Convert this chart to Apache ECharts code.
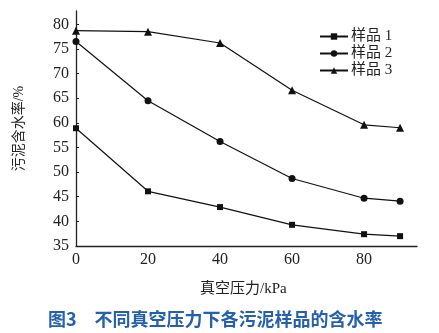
<!DOCTYPE html>
<html><head><meta charset="utf-8">
<script src="https://cdn.jsdelivr.net/npm/echarts@6/dist/echarts.min.js"></script>
<style>html,body{margin:0;padding:0;background:#fff}#c{width:439px;height:333px}</style>
</head><body><div id="c"></div>
<script>
const xValues = [0, 20, 40, 60, 80, 90];
const sample1 = [58.9, 46.1, 42.9, 39.3, 37.4, 37.0];
const sample2 = [76.5, 64.5, 56.2, 48.7, 44.7, 44.1];
const sample3 = [78.7, 78.5, 76.2, 66.6, 59.6, 59.0];
const seriesNames = ['样品 1', '样品 2', '样品 3'];
const xTicks = [0, 20, 40, 60, 80];
const yTicks = [35, 40, 45, 50, 55, 60, 65, 70, 75, 80];
const xName = '真空压力/kPa';
const yName = '污泥含水率/%';
const caption = '图3\u3000不同真空压力下各污泥样品的含水率';

const font = "'Liberation Serif','Noto Sans CJK SC',serif";
const chart = echarts.init(document.getElementById('c'), null, {renderer: 'canvas'});
const mk = (name, data, symbol, size) => ({
  name, type: 'line', data: xValues.map((x, i) => [x, data[i]]),
  symbol, symbolSize: size, showSymbol: true,
  lineStyle: {color: '#111', width: 1.2}, itemStyle: {color: '#111'},
  animation: false
});
chart.setOption({
  animation: false,
  grid: {left: 76, right: 22, top: 11, bottom: 87},
  xAxis: {
    type: 'value', min: 0, max: 94.7,
    axisLine: {lineStyle: {color: '#222', width: 1.3}},
    axisTick: {show: false},
    splitLine: {show: false},
    axisLabel: {customValues: xTicks, color: '#222', fontFamily: font, fontSize: 16, margin: 6}
  },
  yAxis: {
    type: 'value', min: 35, max: 82.7,
    name: yName, nameLocation: 'middle', nameRotate: 90, nameGap: 50,
    nameTextStyle: {fontFamily: font, fontSize: 14, color: '#222'},
    axisLine: {show: true, lineStyle: {color: '#222', width: 1.3}},
    axisTick: {show: true, inside: true, length: 3, customValues: yTicks, lineStyle: {color: '#222'}},
    splitLine: {show: false},
    axisLabel: {customValues: yTicks, color: '#222', fontFamily: font, fontSize: 16, margin: 7}
  },
  legend: {
    left: 314, top: 24, orient: 'vertical', itemWidth: 28, itemHeight: 8, itemGap: 2,
    textStyle: {fontFamily: font, fontSize: 15, color: '#222', padding: [0, 0, 0, -2]},
    data: seriesNames
  },
  series: [
    mk(seriesNames[0], sample1, 'rect', 6),
    mk(seriesNames[1], sample2, 'circle', 7),
    mk(seriesNames[2], sample3, 'triangle', 8)
  ],
  graphic: [
    {type: 'text', left: 200, top: 282, style: {text: xName, font: "15px 'Liberation Serif','Noto Sans CJK SC',serif", fill: '#222'}},
    {type: 'text', left: 48, top: 310, style: {text: caption, font: "bold 18px 'Noto Sans CJK SC',sans-serif", fill: '#2460ae'}}
  ]
});
</script></body></html>
